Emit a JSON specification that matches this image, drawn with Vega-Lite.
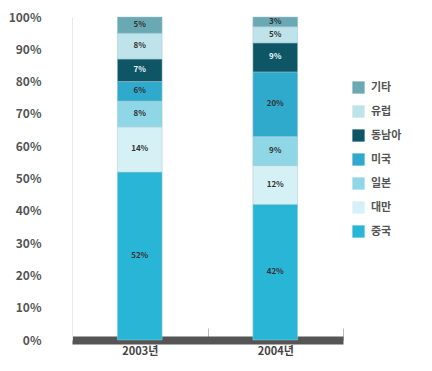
{
  "$schema": "https://vega.github.io/schema/vega-lite/v6.json",
  "width": 271,
  "height": 323,
  "autosize": "none",
  "padding": {"left": 72, "top": 17, "right": 89, "bottom": 31},
  "background": "white",
  "config": {
    "font": "Noto Sans CJK KR",
    "view": {"stroke": null},
    "axisY": {
      "labelOverlap": false,
      "labelFontSize": 12,
      "labelFontWeight": "bold",
      "labelColor": "#555",
      "labelPadding": 31,
      "ticks": false,
      "grid": false,
      "domainColor": "#e8e8e8"
    }
  },
  "data": {
    "values": [
      {"year": "2003년", "region": "중국", "rank": 1, "share": 52},
      {"year": "2003년", "region": "대만", "rank": 2, "share": 14},
      {"year": "2003년", "region": "일본", "rank": 3, "share": 8},
      {"year": "2003년", "region": "미국", "rank": 4, "share": 6},
      {"year": "2003년", "region": "동남아", "rank": 5, "share": 7},
      {"year": "2003년", "region": "유럽", "rank": 6, "share": 8},
      {"year": "2003년", "region": "기타", "rank": 7, "share": 5},
      {"year": "2004년", "region": "중국", "rank": 1, "share": 42},
      {"year": "2004년", "region": "대만", "rank": 2, "share": 12},
      {"year": "2004년", "region": "일본", "rank": 3, "share": 9},
      {"year": "2004년", "region": "미국", "rank": 4, "share": 20},
      {"year": "2004년", "region": "동남아", "rank": 5, "share": 9},
      {"year": "2004년", "region": "유럽", "rank": 6, "share": 5},
      {"year": "2004년", "region": "기타", "rank": 7, "share": 3}
    ]
  },
  "transform": [
    {"stack": "share", "groupby": ["year"], "sort": [{"field": "rank", "order": "ascending"}], "as": ["lo", "hi"]},
    {"calculate": "(datum.lo + datum.hi) / 2", "as": "mid"},
    {"calculate": "datum.share + '%'", "as": "label"}
  ],
  "encoding": {
    "x": {
      "field": "year",
      "type": "nominal",
      "title": null,
      "scale": {"paddingOuter": 0, "paddingInner": 0},
      "axis": {
        "labelAngle": 0,
        "labelFontSize": 11,
        "labelFontWeight": "bold",
        "labelColor": "#444",
        "labelPadding": 17,
        "domainColor": "#555",
        "domainWidth": 8,
        "tickBand": "extent",
        "tickSize": -12,
        "tickColor": "#bbb",
        "tickWidth": 1,
        "ticks": true
      }
    }
  },
  "layer": [
    {
      "mark": {"type": "bar", "width": {"band": 0.33}, "stroke": "#9fc7cf", "strokeWidth": 0.5},
      "encoding": {
        "y": {
          "field": "lo",
          "type": "quantitative",
          "scale": {"domain": [0, 100], "nice": false},
          "title": null,
          "axis": {
            "values": [0, 10, 20, 30, 40, 50, 60, 70, 80, 90, 100],
            "tickCount": 11,
            "labelOverlap": false,
            "labelExpr": "datum.value + '%'"
          }
        },
        "y2": {"field": "hi"},
        "color": {
          "field": "region",
          "type": "nominal",
          "scale": {
            "domain": ["기타", "유럽", "동남아", "미국", "일본", "대만", "중국"],
            "range": ["#6aa8b4", "#bfe3ea", "#0e5566", "#2fa9cc", "#8fd6e6", "#d6f1f6", "#29b6d6"]
          },
          "legend": {
            "title": null,
            "orient": "none",
            "legendX": 280,
            "legendY": 64,
            "symbolType": "square",
            "symbolSize": 150,
            "symbolStrokeWidth": 0,
            "labelFontSize": 11,
            "labelFontWeight": "bold",
            "labelColor": "#555",
            "rowPadding": 11,
            "labelOffset": 6
          }
        }
      }
    },
    {
      "mark": {"type": "text", "fontSize": 8, "fontWeight": "bold"},
      "encoding": {
        "y": {
          "field": "mid",
          "type": "quantitative",
          "title": null,
          "axis": {
            "values": [0, 10, 20, 30, 40, 50, 60, 70, 80, 90, 100],
            "tickCount": 11,
            "labelOverlap": false,
            "labelExpr": "datum.value + '%'"
          }
        },
        "text": {"field": "label", "type": "nominal"},
        "color": {
          "condition": {"test": "datum.region === '동남아'", "value": "#e8f6f9"},
          "value": "#333"
        }
      }
    }
  ]
}
